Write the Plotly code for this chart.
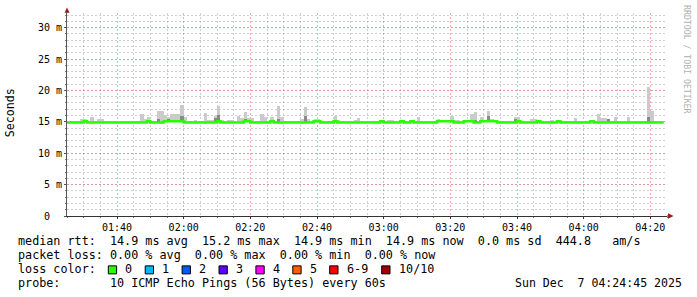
import plotly.graph_objects as go
import pandas as pd

# ---------------- data ----------------
START = "2025-12-07 01:25:00"
END = "2025-12-07 04:25:00"

# median rtt per minute (ms)
median_ms = [
    14.9, 14.9, 14.9, 14.9, 14.9, 15.1, 14.9, 14.9, 14.9, 14.9,
    14.9, 14.9, 14.9, 14.9, 14.9, 14.9, 14.9, 14.9, 14.9, 14.9,
    14.9, 14.9, 14.9, 14.9, 15.1, 14.9, 14.9, 14.9, 14.9, 15.1,
    15.1, 15.1, 15.1, 15.1, 15.1, 14.9, 14.9, 14.9, 14.9, 14.9,
    14.9, 14.9, 14.9, 14.9, 14.9, 15.1, 14.9, 14.9, 14.9, 14.9,
    14.9, 14.9, 14.9, 15.1, 15.1, 14.9, 14.9, 14.9, 14.9, 14.9,
    14.9, 15.1, 14.9, 14.9, 14.9, 14.9, 14.9, 14.9, 14.9, 14.9,
    14.9, 14.9, 14.9, 14.9, 15.1, 15.1, 14.9, 14.9, 14.9, 14.9,
    15.1, 14.9, 14.9, 14.9, 14.9, 14.9, 14.9, 14.9, 14.9, 14.9,
    14.9, 14.9, 14.9, 14.9, 15.1, 14.9, 14.9, 14.9, 14.9, 14.9,
    15.1, 14.9, 14.9, 15.1, 14.9, 14.9, 14.9, 14.9, 14.9, 14.9,
    14.9, 15.1, 15.1, 15.1, 15.1, 15.1, 14.9, 14.9, 14.9, 15.1,
    15.1, 15.1, 14.9, 14.9, 15.1, 15.1, 15.1, 15.1, 15.1, 14.9,
    14.9, 14.9, 14.9, 14.9, 14.9, 15.1, 14.9, 14.9, 14.9, 14.9,
    14.9, 15.1, 14.9, 14.9, 14.9, 14.9, 14.9, 15.1, 14.9, 14.9,
    14.9, 14.9, 14.9, 14.9, 14.9, 14.9, 14.9, 15.1, 14.9, 14.9,
    14.9, 14.9, 14.9, 14.9, 14.9, 14.9, 14.9, 14.9, 14.9, 14.9,
    14.9, 14.9, 14.9, 14.9, 14.9, 14.9, 14.9, 14.9, 14.9,
]

# top of the light smoke (slowest ping) per minute (ms)
smoke_max_ms = [
    15.0, 15.0, 15.0, 15.0, 15.4, 15.4, 15.1, 15.8, 15.1, 15.5,
    15.5, 15.1, 15.2, 15.2, 15.0, 15.0, 15.0, 15.0, 15.0, 15.0,
    15.0, 15.0, 16.2, 15.4, 15.8, 15.2, 15.2, 16.7, 16.7, 16.1,
    15.8, 16.2, 16.2, 16.2, 17.6, 15.8, 15.0, 15.0, 15.3, 15.0,
    15.0, 16.4, 15.3, 15.3, 16.0, 17.5, 15.3, 15.0, 15.3, 15.3,
    15.0, 15.9, 15.6, 16.5, 15.6, 15.6, 15.0, 15.0, 16.2, 15.8,
    15.1, 15.8, 15.1, 17.5, 15.7, 15.0, 15.2, 15.0, 15.0, 15.0,
    15.5, 17.3, 15.4, 15.2, 15.5, 15.5, 15.0, 15.2, 15.0, 15.0,
    15.9, 15.3, 15.0, 15.0, 15.2, 15.2, 15.3, 15.6, 15.1, 15.0,
    15.0, 15.0, 15.0, 15.0, 15.3, 15.0, 15.3, 15.3, 15.0, 15.0,
    15.0, 15.0, 15.0, 15.0, 15.0, 15.7, 15.2, 15.0, 15.0, 15.0,
    15.0, 15.5, 15.1, 15.0, 15.0, 15.9, 15.3, 15.3, 15.2, 15.2,
    15.0, 16.2, 16.5, 15.2, 15.8, 15.1, 16.8, 15.5, 15.0, 15.0,
    15.0, 15.0, 15.2, 15.0, 15.8, 15.8, 15.1, 15.0, 15.0, 15.5,
    15.5, 15.0, 15.0, 15.0, 15.0, 15.35, 15.0, 15.0, 15.0, 15.0,
    15.2, 15.2, 15.6, 15.2, 15.2, 15.0, 15.0, 15.0, 15.0, 16.2,
    15.6, 15.6, 15.5, 15.2, 15.8, 15.2, 15.0, 15.0, 15.8, 15.0,
    15.0, 15.0, 15.0, 15.2, 20.6, 16.7, 15.0, 15.0, 15.2,
]

# darker inner smoke: minute index and top value (ms)
dark_idx = [27, 30, 34, 44, 45, 53, 54, 63, 71, 94, 122, 126, 134, 162, 174]
dark_top_ms = [15.4, 15.5, 16.0, 15.6, 16.1, 15.4, 15.3, 15.4, 16.0, 15.3, 15.3, 15.9, 15.4, 15.4, 15.7]

y_tickvals = [0, 5, 10, 15, 20, 25, 30]
y_ticktext = ["0\u00a0\u00a0", "5\u00a0m", "10\u00a0m", "15\u00a0m", "20\u00a0m", "25\u00a0m", "30\u00a0m"]

loss_labels = ["0", "1", "2", "3", "4", "5", "6-9", "10/10"]
loss_colors = ["#26ff00", "#00b8ff", "#0059ff", "#5e00ff", "#ff00ff", "#ff5e00", "#ff0000", "#a00000"]

line_rtt = "median rtt:  14.9 ms avg  15.2 ms max  14.9 ms min  14.9 ms now  0.0 ms sd  444.8   am/s"
line_loss = "packet loss: 0.00 % avg  0.00 % max  0.00 % min  0.00 % now"
line_color = "loss color:"
line_probe = "probe:       10 ICMP Echo Pings (56 Bytes) every 60s"
stamp = "Sun Dec  7 04:24:45 2025"
watermark = "RRDTOOL / TOBI OETIKER"

# ---------------- geometry ----------------
W, H = 697, 297
PL, PR, PT, PB = 67, 667, 13, 215.7
MONO = "DejaVu Sans Mono"
LEG_SIZE = 11.75


def px(x):
    return (x - PL) / (PR - PL)


def py(y):
    return (PB - y) / (PB - PT)


def nb(s):
    return s.replace(" ", "\u00a0")


n = len(median_ms)
times = pd.date_range(START, periods=n, freq="min")
centers = times + pd.Timedelta(seconds=30)

fig = go.Figure()

fig.add_trace(go.Bar(
    x=centers, y=[m2 - m1 for m1, m2 in zip(median_ms, smoke_max_ms)], base=median_ms,
    width=60000, marker=dict(color="#cbcbcb", line=dict(width=0)), hoverinfo="skip",
))
fig.add_trace(go.Bar(
    x=[centers[i] for i in dark_idx],
    y=[d - median_ms[i] for i, d in zip(dark_idx, dark_top_ms)],
    base=[median_ms[i] for i in dark_idx],
    width=60000, marker=dict(color="#8a8a8a", line=dict(width=0)), hoverinfo="skip",
))
line_x = list(times) + [times[-1] + pd.Timedelta(minutes=1)]
line_y = list(median_ms) + [median_ms[-1]]
fig.add_trace(go.Scatter(
    x=line_x, y=line_y, mode="lines", line=dict(color="#26ff00", width=2.6, shape="hv"),
    hoverinfo="skip",
))

grid_major = "rgba(225,110,110,0.55)"
grid_minor = "rgba(150,150,150,0.45)"

fig.update_layout(
    width=W, height=H, autosize=False,
    margin=dict(l=PL, r=W - PR, t=PT, b=H - PB, pad=0),
    paper_bgcolor="white", plot_bgcolor="white",
    showlegend=False, barmode="overlay", bargap=0,
    font=dict(family=MONO, size=10, color="#000000"),
    xaxis=dict(
        type="date", range=[START, END],
        tick0="2025-12-07 01:40:00", dtick=20 * 60 * 1000, tickformat="%H:%M",
        showgrid=True, gridcolor=grid_major, griddash="2px,2px", gridwidth=1,
        showline=True, linecolor="#333333", linewidth=1,
        ticks="outside", ticklen=2, tickcolor="#333333",
        tickfont=dict(family=MONO, size=10),
        minor=dict(dtick=5 * 60 * 1000, showgrid=True, gridcolor=grid_minor,
                   griddash="2px,2px", ticks="outside", ticklen=1, tickcolor="#777777"),
        zeroline=False, fixedrange=True,
    ),
    yaxis=dict(
        range=[0, (PB - PT) / 6.27],
        tickvals=y_tickvals, ticktext=y_ticktext,
        showgrid=True, gridcolor=grid_major, griddash="2px,2px", gridwidth=1,
        showline=True, linecolor="#555555", linewidth=1,
        ticks="outside", ticklen=2, tickcolor="#555555",
        tickfont=dict(family=MONO, size=10),
        minor=dict(dtick=1, showgrid=True, gridcolor=grid_minor, griddash="2px,2px",
                   ticks="outside", ticklen=1, tickcolor="#777777"),
        zeroline=False, fixedrange=True,
    ),
)

shapes = []
# axis extensions and arrowheads
shapes.append(dict(type="line", xref="paper", yref="paper", x0=px(PL), x1=px(PL), y0=py(PT), y1=py(10),
                   line=dict(color="#555555", width=1)))
shapes.append(dict(type="path", xref="paper", yref="paper",
                   path=f"M {px(64.5)} {py(12.8)} L {px(69.5)} {py(12.8)} L {px(67)} {py(7.5)} Z",
                   fillcolor="#9b1c1c", line=dict(width=0)))
shapes.append(dict(type="line", xref="paper", yref="paper", x0=px(PR), x1=px(669), y0=py(PB), y1=py(PB),
                   line=dict(color="#333333", width=1)))
shapes.append(dict(type="path", xref="paper", yref="paper",
                   path=f"M {px(668)} {py(PB - 2.8)} L {px(668)} {py(PB + 2.8)} L {px(673.5)} {py(PB)} Z",
                   fillcolor="#9b1c1c", line=dict(width=0)))

annotations = []


def text_at(x, y, s, size=LEG_SIZE, color="#000000", xanchor="left", angle=0):
    annotations.append(dict(
        x=px(x), y=py(y), xref="paper", yref="paper", text=nb(s), showarrow=False,
        xanchor=xanchor, yanchor="middle", textangle=angle,
        font=dict(family=MONO, size=size, color=color),
    ))


text_at(16, 241, line_rtt)
text_at(16, 255, line_loss)
text_at(16, 269, line_color)
text_at(16, 283, line_probe)
text_at(513.3, 283, stamp, size=11.55)

sq_left = [108.3, 145.2, 182.1, 219.0, 255.9, 292.8, 329.7, 381.7]
for left, lab, col in zip(sq_left, loss_labels, loss_colors):
    shapes.append(dict(type="rect", xref="paper", yref="paper",
                       x0=px(left), x1=px(left + 8.3), y0=py(265.5), y1=py(273.5),
                       fillcolor=col, line=dict(color="#000000", width=1)))
    text_at(left + 15, 269, lab)

# y axis title
text_at(10, 113, "Seconds", size=11.6, xanchor="center", angle=-90)
# watermark
annotations.append(dict(
    x=px(687), y=py(59), xref="paper", yref="paper", text=nb(watermark), showarrow=False,
    xanchor="center", yanchor="middle", textangle=90,
    font=dict(family=MONO, size=8.2, color="#b0b0b0"),
))

fig.update_layout(shapes=shapes, annotations=annotations)
fig.write_html("out.html")
